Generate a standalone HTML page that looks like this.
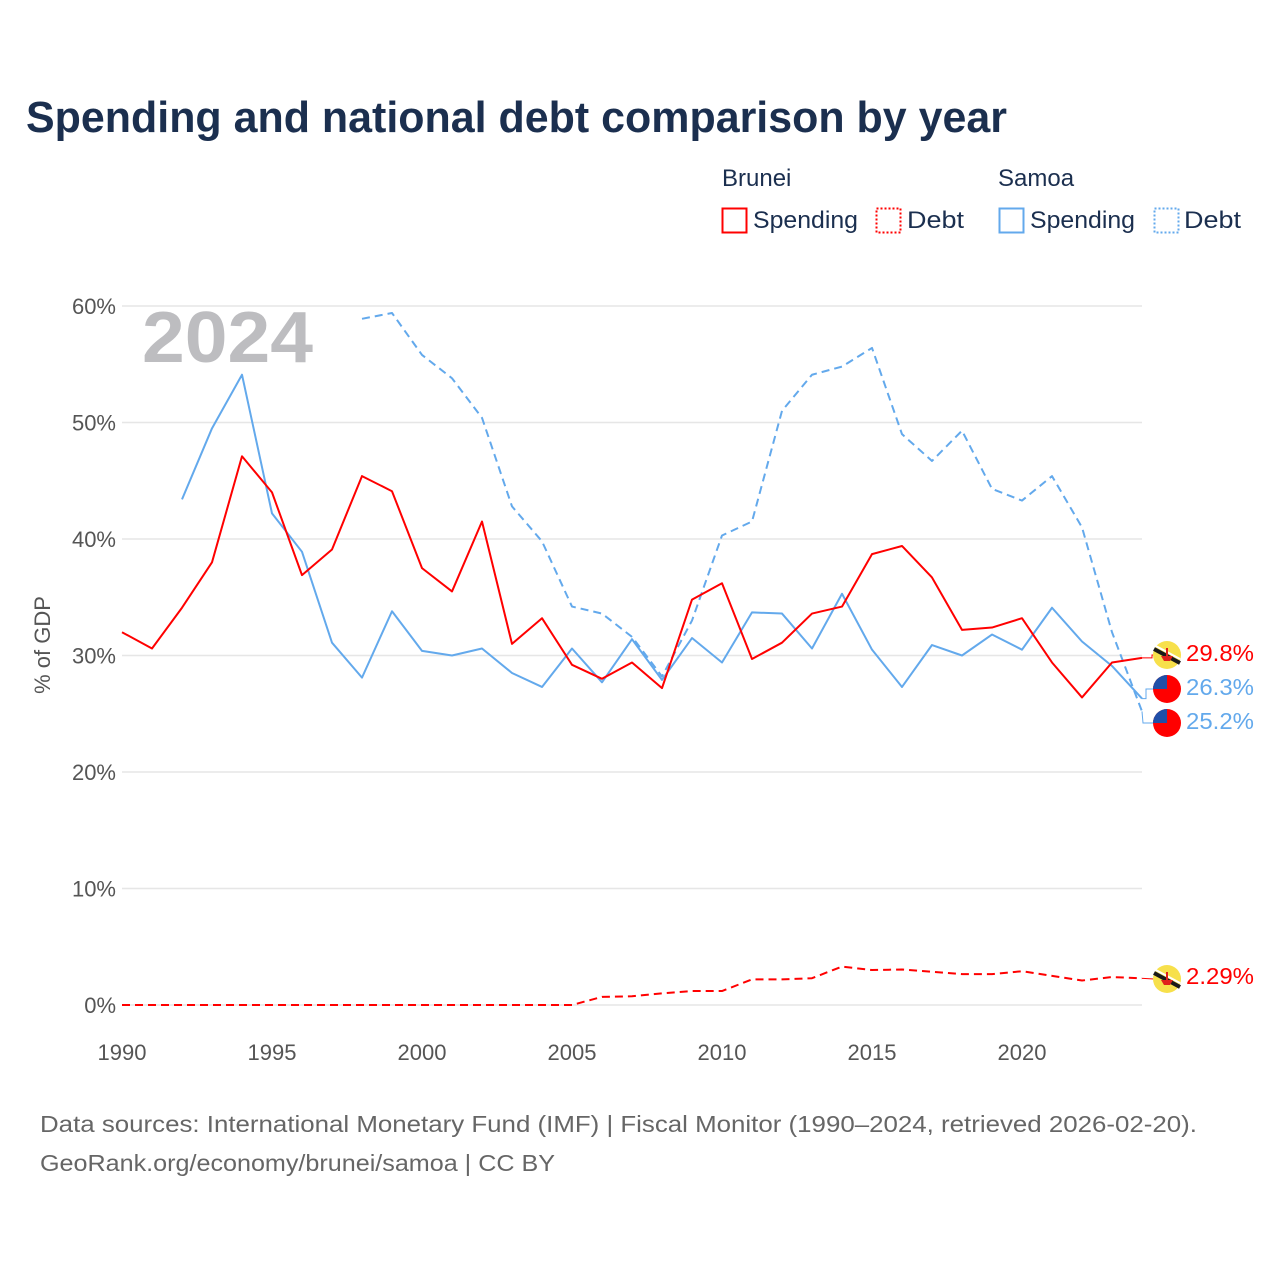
<!DOCTYPE html>
<html><head><meta charset="utf-8">
<style>
html,body{margin:0;padding:0;background:#fff;}
body{width:1280px;height:1280px;overflow:hidden;font-family:"Liberation Sans",sans-serif;}
</style></head>
<body>
<svg id="chart" width="1280" height="1280" xmlns="http://www.w3.org/2000/svg" font-family="Liberation Sans, sans-serif">
<text x="26" y="132" font-size="44" font-weight="bold" fill="#1b2f4f" textLength="981" lengthAdjust="spacingAndGlyphs">Spending and national debt comparison by year</text>
<g font-size="24" fill="#1b2f4f">
<text x="722" y="186">Brunei</text>
<text x="998" y="186">Samoa</text>
<g><rect x="722.5" y="208.5" width="24" height="24" fill="none" stroke="#f00" stroke-width="2"/><text x="753" y="228" textLength="105" lengthAdjust="spacingAndGlyphs">Spending</text></g>
<g><rect x="876.5" y="208.5" width="24" height="24" fill="none" stroke="#f00" stroke-width="2" stroke-dasharray="2,2"/><text x="907" y="228" textLength="57" lengthAdjust="spacingAndGlyphs">Debt</text></g>
<g><rect x="999.5" y="208.5" width="24" height="24" fill="none" stroke="#63a9ec" stroke-width="2"/><text x="1030" y="228" textLength="105" lengthAdjust="spacingAndGlyphs">Spending</text></g>
<g><rect x="1154.5" y="208.5" width="24" height="24" fill="none" stroke="#63a9ec" stroke-width="2" stroke-dasharray="2,2"/><text x="1184" y="228" textLength="57" lengthAdjust="spacingAndGlyphs">Debt</text></g>
</g>
<text x="142" y="362" font-size="72" font-weight="bold" fill="#bdbdc0" textLength="171" lengthAdjust="spacingAndGlyphs">2024</text>
<text transform="translate(50,645) rotate(-90)" text-anchor="middle" font-size="22" fill="#555">% of GDP</text>
<g id="grid"></g><g id="axes"></g><g id="series"></g><g id="labels"></g>
<text x="40" y="1132" font-size="23" fill="#666" textLength="1157" lengthAdjust="spacingAndGlyphs">Data sources: International Monetary Fund (IMF) | Fiscal Monitor (1990–2024, retrieved 2026-02-20).</text>
<text x="40" y="1171" font-size="23" fill="#666" textLength="515" lengthAdjust="spacingAndGlyphs">GeoRank.org/economy/brunei/samoa | CC BY</text>
</svg>
<script>
const years = [];for(let y=1990;y<=2024;y++)years.push(y);
const yTicks = [0,10,20,30,40,50,60];
const xTicks = [1990,1995,2000,2005,2010,2015,2020];
const bruneiSpending = [32.0,30.6,34.1,38.0,47.1,44.0,36.9,39.1,45.4,44.1,37.5,35.5,41.5,31.0,33.2,29.2,28.0,29.4,27.2,34.8,36.2,29.7,31.1,33.6,34.2,38.7,39.4,36.7,32.2,32.4,33.2,29.4,26.4,29.4,29.8];
const bruneiDebt = [0,0,0,0,0,0,0,0,0,0,0,0,0,0,0,0,0.7,0.75,1.0,1.2,1.2,2.2,2.2,2.3,3.3,3.0,3.05,2.85,2.65,2.65,2.9,2.5,2.1,2.4,2.29];
const samoaSpending = [null,null,43.4,49.5,54.1,42.2,38.9,31.1,28.1,33.8,30.4,30.0,30.6,28.5,27.3,30.6,27.7,31.4,27.9,31.5,29.4,33.7,33.6,30.6,35.3,30.5,27.3,30.9,30.0,31.8,30.5,34.1,31.2,29.1,26.3];
const samoaDebt = [null,null,null,null,null,null,null,null,58.9,59.4,55.8,53.8,50.4,42.8,39.8,34.2,33.6,31.6,28.2,33.0,40.3,41.5,51.0,54.1,54.8,56.4,49.0,46.7,49.3,44.3,43.3,45.4,41.0,32.0,25.2];

const NS="http://www.w3.org/2000/svg";
const X=y=>122+(y-1990)*30, Y=v=>1005-v*11.65;
function mk(tag,attrs,parent){const e=document.createElementNS(NS,tag);for(const k in attrs)e.setAttribute(k,attrs[k]);parent.appendChild(e);return e;}
const grid=document.getElementById('grid'),axes=document.getElementById('axes'),series=document.getElementById('series'),labels=document.getElementById('labels');
yTicks.forEach(t=>{
  const l=mk('line',{x1:122,x2:1142,y1:Y(t),y2:Y(t),stroke:'#e6e6e6','stroke-width':1.5},grid);
  
  
  const tx=mk('text',{x:116,y:Y(t)+8,'text-anchor':'end','font-size':22,fill:'#555'},axes);
  tx.textContent=t+'%';
  
  
});
xTicks.forEach(t=>{
  const tx=mk('text',{x:X(t),y:1060,'text-anchor':'middle','font-size':22,fill:'#555'},axes);
  tx.textContent=t;
  
  
});
function draw(arr,color,dash,name){
  let d='';let pen=false;
  arr.forEach((v,i)=>{if(v==null){pen=false;return;}d+=(pen?'L':'M')+X(years[i])+','+Y(v);pen=true;});
  const p=mk('path',{d:d,fill:'none',stroke:color,'stroke-width':2,'stroke-linejoin':'round'},series);
  if(dash)p.setAttribute('stroke-dasharray','8,5');
  
  
}
draw(samoaDebt,'#63a9ec',true,'line-samoa-debt');
draw(samoaSpending,'#63a9ec',false,'line-samoa-spending');
draw(bruneiDebt,'#f00',true,'line-brunei-debt');
draw(bruneiSpending,'#f00',false,'line-brunei-spending');

function flag(cy,kind,name){
  const g=mk('g',{},labels);
  
  
  const cx=1167,r=14;
  if(kind==='bn'){
    mk('circle',{cx:cx,cy:cy,r:r,fill:'#f7e04b'},g);
    mk('line',{x1:cx-13,y1:cy-6,x2:cx+13,y2:cy+8,stroke:'#1a1a1a','stroke-width':4},g);
    mk('line',{x1:cx-13,y1:cy-10,x2:cx+13,y2:cy+4,stroke:'#fff','stroke-width':2},g);
    mk('path',{d:`M${cx-6},${cy+1}L${cx+6},${cy+1}L${cx+3},${cy+6}L${cx-3},${cy+6}Z M${cx-1},${cy-7}h2v8h-2Z`,fill:'#e0201c'},g);
  }else{
    mk('circle',{cx:cx,cy:cy,r:r,fill:'#f00'},g);
    mk('path',{d:`M${cx-14},${cy}A14,14 0 0 1 ${cx},${cy-14}L${cx},${cy}Z`,fill:'#1f4fa8'},g);
  }
}
function lab(v,cy,color,name){
  const t=mk('text',{x:1186,y:cy+8,'font-size':23,fill:color,textLength:68,lengthAdjust:'spacingAndGlyphs'},labels);
  t.textContent=v;
  
  
}
mk('path',{d:`M${X(2024)},${Y(29.8)}L1152,${Y(29.8)}L1152,655L1154,655`,fill:'none',stroke:'#f00','stroke-width':1},labels);
mk('path',{d:`M${X(2024)},${Y(26.3)}L1146,${Y(26.3)}L1146,689L1154,689`,fill:'none',stroke:'#63a9ec','stroke-width':1},labels);
mk('path',{d:`M${X(2024)},${Y(25.2)}L1143,723L1154,723`,fill:'none',stroke:'#63a9ec','stroke-width':1},labels);
mk('path',{d:`M${X(2024)},${Y(2.29)}L1154,979`,fill:'none',stroke:'#f00','stroke-width':1},labels);
flag(655,'bn','flag-brunei-spending');
flag(689,'ws','flag-samoa-spending');
flag(723,'ws','flag-samoa-debt');
flag(979,'bn','flag-brunei-debt');
lab('29.8%',653,'#f00','end-label-brunei-spending');
lab('26.3%',687,'#63a9ec','end-label-samoa-spending');
lab('25.2%',721,'#63a9ec','end-label-samoa-debt');
lab('2.29%',976,'#f00','end-label-brunei-debt');
</script>
</body></html>
